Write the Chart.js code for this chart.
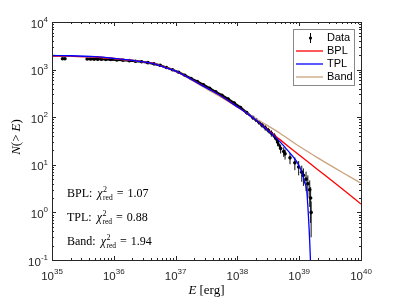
<!DOCTYPE html>
<html>
<head>
<meta charset="utf-8">
<script src="https://cdn.jsdelivr.net/npm/chart.js@4.4.0/dist/chart.umd.min.js"></script>
<style>
  html, body { margin: 0; padding: 0; background: #fff; }
  canvas { display: block; }
</style>
</head>
<body>
<canvas id="chart" width="399" height="299"></canvas>
<script>
// observed cumulative counts N(>E), with error bars
const dataE = [1.48e35, 1.62e35, 3.7e35, 4.2e35, 4.8e35, 5.5e35, 6.3e35, 7.4e35, 8.9e35,
  1.12e36, 1.41e36, 1.78e36, 2.24e36, 2.82e36, 3.55e36, 4.47e36, 5.62e36, 7.08e36, 8.91e36,
  1.12e37, 1.41e37, 1.78e37, 2.24e37, 2.82e37, 3.55e37, 4.47e37, 5.62e37, 7.08e37, 8.91e37,
  1.12e38, 1.41e38, 1.78e38, 2.0e38, 2.24e38, 2.51e38, 2.82e38, 3.16e38, 3.55e38, 3.98e38,
  4.47e38, 5.01e38, 5.62e38, 5.9e38, 7.1e38, 8.5e38, 9.8e38, 1.1e39, 1.17e39, 1.29e39,
  1.38e39, 1.48e39, 1.53e39, 1.56e39];
const dataN = [1690, 1685, 1670, 1665, 1660, 1655, 1650, 1640, 1625,
  1600, 1570, 1540, 1500, 1460, 1400, 1320, 1230, 1110, 990,
  880, 760, 650, 560, 480, 405, 340, 288, 242, 198,
  160, 125, 98, 88, 78, 68, 60, 53, 46, 40,
  30, 22, 19, 17, 14, 11, 9, 7, 6, 5,
  4, 3, 2, 1];
const dataErr = [41, 41, 41, 41, 41, 41, 41, 40, 40,
  40, 40, 39, 39, 38, 37, 36, 35, 33, 31,
  30, 28, 25, 24, 22, 20, 18, 17, 16, 14,
  13, 11, 10, 9, 9, 8, 8, 7, 7, 6,
  5.5, 4.7, 4.4, 4.1, 3.7, 3.3, 3, 2.6, 2.4, 2.2,
  2, 1.7, 1.4, 0.7];

// fitted models
const bplE = [1e35, 2e35, 5e35, 1e36, 2e36, 4e36, 7e36, 1e37, 1.5e37, 2.5e37, 4e37, 6e37,
  1e38, 1.5e38, 2e38, 3e38, 5e38, 1e39, 2e39, 5e39, 1e40];
const bplN = [1930, 1910, 1840, 1710, 1555, 1380, 1100, 930, 710, 490, 350, 255,
  165, 115, 87, 56, 33, 16, 7.9, 3.1, 1.5];

const tplE = [1e35, 2e35, 5e35, 1e36, 2e36, 4e36, 7e36, 1e37, 1.5e37, 2.5e37, 4e37, 6e37,
  1e38, 1.5e38, 2e38, 3e38, 4.37e38, 5.62e38, 7.94e38, 9.12e38, 1.1e39, 1.23e39, 1.32e39,
  1.45e39, 1.51e39, 1.56e39];
const tplN = [1980, 1955, 1865, 1720, 1555, 1370, 1090, 925, 710, 490, 350, 257,
  165, 115, 87, 55, 35.5, 25, 14.8, 11.7, 7.1, 4.2, 2.95,
  0.43, 0.126, 0.03];

const bandE = [1e35, 2e35, 5e35, 1e36, 2e36, 4e36, 7e36, 1e37, 1.5e37, 2.5e37, 4e37, 6e37,
  1e38, 1.5e38, 2e38, 3e38, 5e38, 1e39, 2e39, 5e39, 1e40];
const bandN = [1930, 1910, 1840, 1710, 1555, 1380, 1100, 930, 705, 470, 330, 245,
  162, 117, 93, 68, 45, 24.5, 14, 6.9, 4.1];

const xTickExp = [35, 36, 37, 38, 39, 40];
const yTickExp = [-1, 0, 1, 2, 3, 4];
const fitNames = ["BPL:", "TPL:", "Band:"];
const chiValues = ["1.07", "0.88", "1.94"];
const legendNames = ["Data", "BPL", "TPL", "Band"];

const RED = "#ff0000", BLUE = "#0000ff", TAN = "#c9a47e", INK = "#262626";
const SANS = '"Liberation Sans", Arial, sans-serif';
const SERIF = '"Liberation Serif", "Times New Roman", serif';

const toPts = (xs, ys) => xs.map((x, i) => ({ x: x, y: ys[i] }));

const errPts = [];
dataE.forEach((e, i) => {
  errPts.push({ x: e, y: Math.max(dataN[i] - dataErr[i], 0.05) });
  errPts.push({ x: e, y: dataN[i] + dataErr[i] });
  errPts.push({ x: e, y: null });
});

// draw a run of text pieces with different fonts / vertical offsets
function drawRuns(ctx, runs, x, y) {
  let cx = x;
  runs.forEach(r => {
    ctx.font = r.font;
    ctx.fillText(r.t, cx, y + (r.dy || 0));
    if (!r.noAdvance) cx += ctx.measureText(r.t).width + (r.gap || 0);
  });
  return cx - x;
}
function runsWidth(ctx, runs) {
  let w = 0;
  runs.forEach(r => {
    ctx.font = r.font;
    if (!r.noAdvance) w += ctx.measureText(r.t).width + (r.gap || 0);
  });
  return w;
}
function powRuns(exp) {
  return [
    { t: "10", font: "11.5px " + SANS },
    { t: String(exp), font: "8px " + SANS, dy: -5 }
  ];
}

const axesPlugin = {
  id: "matlabAxes",
  afterDatasetsDraw(chart) {
    const ctx = chart.ctx;
    const a = chart.chartArea;
    const xs = chart.scales.x, ys = chart.scales.y;
    ctx.save();
    ctx.strokeStyle = INK;
    ctx.fillStyle = INK;
    ctx.lineWidth = 1;

    // inward ticks on all four sides
    ctx.beginPath();
    for (let d = 35; d <= 40; d++) {
      for (let k = 1; k <= 9; k++) {
        if (d === 40 && k > 1) break;
        const px = Math.round(xs.getPixelForValue(k * Math.pow(10, d))) + 0.5;
        const len = k === 1 ? 4 : 2;
        ctx.moveTo(px, a.bottom); ctx.lineTo(px, a.bottom - len);
        ctx.moveTo(px, a.top); ctx.lineTo(px, a.top + len);
      }
    }
    for (let d = -1; d <= 4; d++) {
      for (let k = 1; k <= 9; k++) {
        if (d === 4 && k > 1) break;
        const py = Math.round(ys.getPixelForValue(k * Math.pow(10, d))) + 0.5;
        const len = k === 1 ? 4 : 2;
        ctx.moveTo(a.left, py); ctx.lineTo(a.left + len, py);
        ctx.moveTo(a.right, py); ctx.lineTo(a.right - len, py);
      }
    }
    ctx.stroke();
    ctx.strokeRect(Math.round(a.left) + 0.5, Math.round(a.top) + 0.5,
      Math.round(a.right - a.left), Math.round(a.bottom - a.top));

    // tick labels
    ctx.textBaseline = "middle";
    ctx.textAlign = "left";
    xTickExp.forEach(e => {
      const px = xs.getPixelForValue(Math.pow(10, e));
      const r = powRuns(e);
      drawRuns(ctx, r, px - runsWidth(ctx, r) / 2, a.bottom + 17);
    });
    yTickExp.forEach(e => {
      const py = ys.getPixelForValue(Math.pow(10, e));
      const r = powRuns(e);
      drawRuns(ctx, r, a.left - 4 - runsWidth(ctx, r), py + 2.5);
    });

    // axis titles
    ctx.fillStyle = "#000";
    ctx.textBaseline = "alphabetic";
    const xt = [
      { t: "E", font: "italic 13px " + SERIF, gap: 3 },
      { t: "[erg]", font: "13px " + SERIF }
    ];
    drawRuns(ctx, xt, (a.left + a.right) / 2 - runsWidth(ctx, xt) / 2, 294);
    const yt = [
      { t: "N", font: "italic 13px " + SERIF },
      { t: "(>", font: "13px " + SERIF, gap: 3 },
      { t: "E", font: "italic 13px " + SERIF },
      { t: ")", font: "13px " + SERIF }
    ];
    ctx.save();
    ctx.translate(20, (a.top + a.bottom) / 2 - 4);
    ctx.rotate(-Math.PI / 2);
    drawRuns(ctx, yt, -runsWidth(ctx, yt) / 2, 0);
    ctx.restore();

    // reduced chi-square notes
    fitNames.forEach((name, i) => {
      const runs = [
        { t: name, font: "12px " + SERIF, gap: 5 },
        { t: "\u03c7", font: "italic 12px " + SERIF, gap: 0.5 },
        { t: "2", font: "8px " + SERIF, dy: -5, noAdvance: true },
        { t: "red", font: "7.5px " + SERIF, dy: 3, gap: 4 },
        { t: "=", font: "12px " + SERIF, gap: 4 },
        { t: chiValues[i], font: "12px " + SERIF }
      ];
      drawRuns(ctx, runs, a.left + 15, 197 + i * 24);
    });

    // legend box
    const bx = a.right - 68, by = a.top + 6.5, bw = 61, bh = 56;
    ctx.fillStyle = "#fff";
    ctx.fillRect(bx, by, bw, bh);
    ctx.strokeStyle = "#888";
    ctx.strokeRect(Math.round(bx) + 0.5, Math.round(by) + 0.5, bw, bh);
    const colors = ["#000", RED, BLUE, TAN];
    legendNames.forEach((name, i) => {
      const ly = by + 9.5 + i * 13;
      if (i === 0) {
        ctx.strokeStyle = "#000";
        ctx.beginPath();
        ctx.moveTo(bx + 17.5, ly - 5); ctx.lineTo(bx + 17.5, ly + 5);
        ctx.stroke();
        ctx.fillStyle = "#000";
        ctx.beginPath(); ctx.arc(bx + 17.5, ly, 1.6, 0, Math.PI * 2); ctx.fill();
      } else {
        ctx.strokeStyle = colors[i];
        ctx.lineWidth = 1.3;
        ctx.beginPath();
        ctx.moveTo(bx + 3, ly); ctx.lineTo(bx + 30, ly);
        ctx.stroke();
        ctx.lineWidth = 1;
      }
      ctx.fillStyle = "#000";
      ctx.font = "11px " + SANS;
      ctx.textBaseline = "middle";
      ctx.fillText(name, bx + 34, ly);
    });
    ctx.restore();
  }
};

new Chart(document.getElementById("chart"), {
  type: "line",
  data: {
    datasets: [
      { label: "TPL", data: toPts(tplE, tplN), borderColor: BLUE, borderWidth: 1.3,
        pointRadius: 0, cubicInterpolationMode: "monotone", order: 1 },
      { label: "BPL", data: toPts(bplE, bplN), borderColor: RED, borderWidth: 1.3,
        pointRadius: 0, cubicInterpolationMode: "monotone", order: 2 },
      { label: "Band", data: toPts(bandE, bandN), borderColor: TAN, borderWidth: 1.3,
        pointRadius: 0, cubicInterpolationMode: "monotone", order: 3 },
      { label: "Data", data: toPts(dataE, dataN), borderColor: "#000", backgroundColor: "#000",
        borderWidth: 2.2, pointRadius: 1.8, pointBorderWidth: 0,
        segment: {
          borderColor: c => (c.p1.parsed.y < 20 || c.p1.parsed.x / c.p0.parsed.x > 1.5
            ? "rgba(0,0,0,0)" : "#000")
        },
        order: 4 },
      { label: "err", data: errPts, borderColor: "#111", borderWidth: 1,
        pointRadius: 0, spanGaps: false, order: 5 }
    ]
  },
  options: {
    responsive: false,
    animation: false,
    devicePixelRatio: 1,
    layout: { padding: { left: 52, right: 38, top: 22, bottom: 39 } },
    plugins: { legend: { display: false }, tooltip: { enabled: false } },
    scales: {
      x: { type: "logarithmic", min: 1e35, max: 1e40, display: false },
      y: { type: "logarithmic", min: 0.1, max: 1e4, display: false }
    }
  },
  plugins: [axesPlugin]
});
</script>
</body>
</html>
